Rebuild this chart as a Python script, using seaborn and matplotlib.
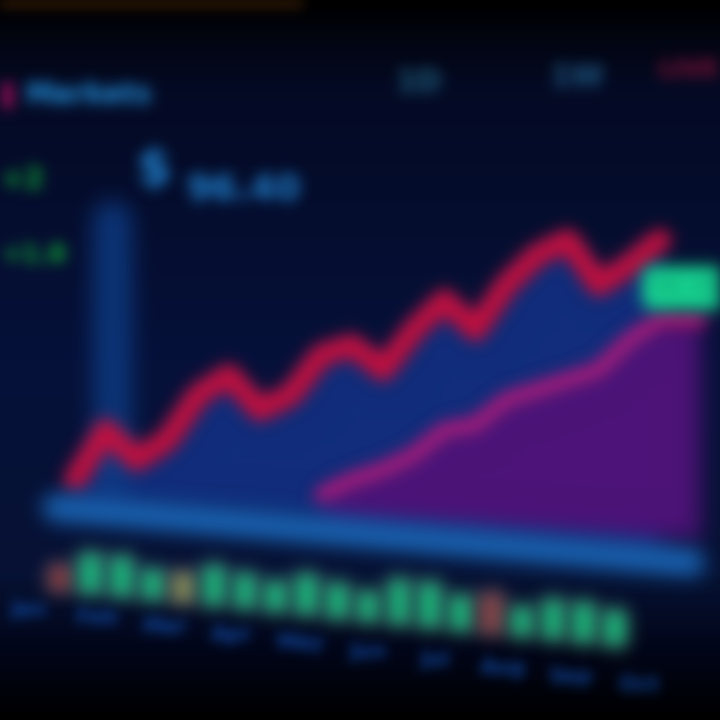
import numpy as np
import pandas as pd
import seaborn as sns
import matplotlib.pyplot as plt
from matplotlib.colors import LinearSegmentedColormap

# ------------------------------------------
# Data
# ------------------------------------------
days = list(range(20))
price = [48, 58, 52, 56, 65, 69, 62, 65, 73, 75, 70, 78, 84, 78, 87, 93, 96, 87, 91, 96]
baseline = [44, 34]  # left / right end of the light blue base band

area_days = [8, 9, 10, 11, 12, 13, 14, 15, 16, 17, 18, 19, 20.3]
area_vals = [45, 48, 50, 53, 58, 59, 64, 66, 68, 70, 76, 80, 80]

volume = [5, 8, 8, 6, 6, 8, 7, 6, 8, 7, 6, 9, 9, 7, 8, 6, 8, 8, 7]
vol_colors = ["#8a3030", "#10bc78", "#10bc78", "#10bc78", "#8a9050", "#10bc78", "#10bc78",
              "#10bc78", "#10bc78", "#10bc78", "#10bc78", "#10bc78", "#10bc78", "#10bc78",
              "#8a4040", "#10bc78", "#10bc78", "#10bc78", "#10bc78"]

x_labels = ["Jan", "Feb", "Mar", "Apr", "May", "Jun", "Jul", "Aug", "Sep", "Oct"]
last_price = "96.40"


# ------------------------------------------
# Gaussian blur filter (screen photo look)
# ------------------------------------------
class Blur:
    def __init__(self, sigma):
        self.sigma = sigma

    def _blur(self, a):
        pad = self.pad
        k = np.arange(-pad, pad + 1)
        w = np.exp(-0.5 * (k / self.sigma) ** 2)
        w /= w.sum()
        out = np.zeros_like(a)
        for off, wt in zip(k, w):
            out += wt * np.roll(a, off, axis=0)
        out2 = np.zeros_like(out)
        for off, wt in zip(k, w):
            out2 += wt * np.roll(out, off, axis=1)
        return out2

    def __call__(self, im, dpi):
        self.pad = int(self.sigma * 3)
        src = np.pad(im, [(self.pad, self.pad), (self.pad, self.pad), (0, 0)], "constant")
        alpha = src[..., 3:4]
        rgb = self._blur(src[..., :3] * alpha)
        a = self._blur(alpha)
        rgb = np.where(a > 1e-4, rgb / np.maximum(a, 1e-4), 0)
        out = np.concatenate([np.clip(rgb, 0, 1), np.clip(a, 0, 1)], axis=2)
        return out, -self.pad, -self.pad


sns.set_theme(style="dark")
plt.rcParams["font.family"] = ["DejaVu Sans"]

fig = plt.figure(figsize=(7.2, 7.2), dpi=100, facecolor="#03071a")
ax = fig.add_axes([0, 0, 1, 1])
ax.set_xlim(-2.43, 20.94)
ax.set_ylim(0, 144)
ax.axis("off")

# screen background: dark bezel on top and bottom, navy in the middle
bg = LinearSegmentedColormap.from_list(
    "bg", [(0, "#000000"), (0.04, "#02040e"), (0.12, "#040a24"), (0.5, "#06113a"),
           (0.8, "#061234"), (0.9, "#02061a"), (1, "#000000")])
ax.imshow(np.linspace(0, 1, 200).reshape(-1, 1), cmap=bg, aspect="auto",
          extent=[-2.43, 20.94, 0, 144], zorder=0)
glow, = ax.plot([-2.43, 7.3], [143.5, 143.5], color="#6a3a10", lw=6, alpha=0.6)
glow.set_agg_filter(Blur(6))

df = pd.DataFrame({"day": days, "price": price})

# blue area under the price line
fill = ax.fill_between(days, price, np.linspace(baseline[0], baseline[1], len(days)),
                       color="#122e7c", lw=0)
fill.set_agg_filter(Blur(8))

# magenta area
mag = ax.fill_between(area_days, area_vals, np.linspace(41, 36, len(area_days)),
                      color="#4e1478", lw=0)
mag.set_agg_filter(Blur(8))
mag_edge, = ax.plot(area_days, area_vals, color="#b81a7a", lw=10)
mag_edge.set_agg_filter(Blur(8))

# left axis glow
vline, = ax.plot([1.2, 1.2], [49, 100], color="#0e3c84", lw=28, alpha=0.85)
vline.set_agg_filter(Blur(11))

# price line
sns.lineplot(data=df, x="day", y="price", ax=ax, color="#c4103f", lw=16)
ax.lines[-1].set_agg_filter(Blur(8))

# light blue base band
base, = ax.plot([-0.6, 20], [baseline[0] - 1.5, baseline[1] - 2.5], color="#1c6cc0", lw=20, alpha=0.9)
base.set_agg_filter(Blur(10))

# volume bars (screen is tilted, so the row descends to the right)
vol_base = np.linspace(26, 15, len(volume))
bars = ax.bar([d - 0.5 for d in range(len(volume))], volume, bottom=vol_base, width=0.7,
              color=vol_colors)
for b in bars:
    b.set_agg_filter(Blur(9))

# x labels
lab_y = np.linspace(22, 7, len(x_labels))
for i, lab in enumerate(x_labels):
    t = ax.text(-1.5 + i * 2.2, lab_y[i], lab, color="#1048a0", fontsize=15,
                fontweight="bold", ha="center", va="center")
    t.set_agg_filter(Blur(6))

# last price tag
tag = ax.text(20.94, 86.4, last_price, color="#10a070", fontsize=15, fontweight="bold",
              ha="right", va="center",
              bbox=dict(boxstyle="round,pad=0.55", fc="#18dc96", ec="none"))
tag.set_agg_filter(Blur(8))

# header texts
header = [
    ax.text(-2.35, 125, "▌", color="#b01060", fontsize=18, va="center"),
    ax.text(-1.6, 125, "Markets", color="#2494e0", fontsize=20, fontweight="bold", va="center"),
    ax.text(-2.4, 108, "+2", color="#10b438", fontsize=20, fontweight="bold", va="center"),
    ax.text(-2.4, 93, "+1.8", color="#10b438", fontsize=18, fontweight="bold", va="center"),
    ax.text(2.0, 110, "$", color="#2080cc", fontsize=36, fontweight="bold", va="center"),
    ax.text(3.6, 106, "96.40", color="#2080cc", fontsize=26, fontweight="bold", va="center"),
    ax.text(10.4, 127.5, "1D", color="#20607e", fontsize=22, fontweight="bold", va="center"),
    ax.text(15.4, 128.5, "1W", color="#205a86", fontsize=22, fontweight="bold", va="center"),
    ax.text(20.94, 130, "LIVE", color="#88123a", fontsize=18, fontweight="bold",
            ha="right", va="center"),
]
for t in header:
    t.set_agg_filter(Blur(7))

fig.savefig("out.png", dpi=100, facecolor=fig.get_facecolor())
